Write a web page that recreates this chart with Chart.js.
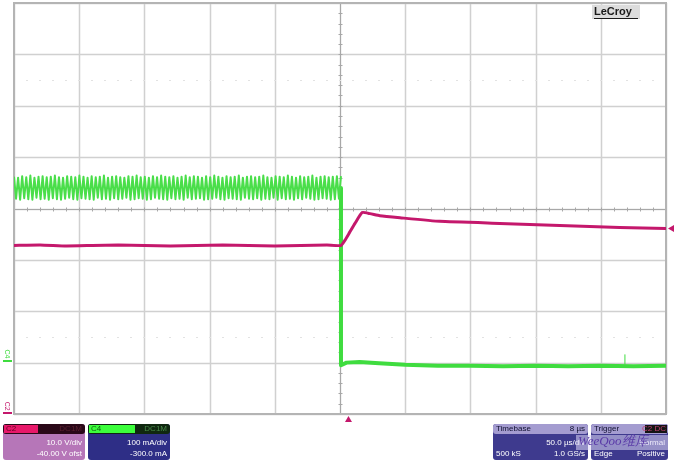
<!DOCTYPE html>
<html>
<head>
<meta charset="utf-8">
<script src="https://cdn.jsdelivr.net/npm/chart.js@4.4.0/dist/chart.umd.min.js"></script>
<style>
  html, body { margin: 0; padding: 0; background: #ffffff; }
  #scope { display: block; }
</style>
</head>
<body>
<canvas id="scope" width="678" height="465"></canvas>
<script>
// screen is 10 x 8 divisions, values below are in divisions (0..10 across, -4..4 up)
const STEP_AT = 5.015;

// C4 ripple before the step: peaks and troughs
const rippleHigh = [0.62, 0.60, 0.63, 0.61, 0.64, 0.60, 0.62, 0.63, 0.61, 0.62,
  0.64, 0.61, 0.60, 0.63, 0.62, 0.61, 0.64, 0.62, 0.60, 0.63,
  0.61, 0.62, 0.64, 0.60, 0.62, 0.63, 0.61, 0.60, 0.63, 0.62,
  0.64, 0.61, 0.62, 0.60, 0.63, 0.61, 0.64, 0.62, 0.61, 0.63,
  0.60, 0.62, 0.64, 0.61, 0.63, 0.62, 0.60, 0.63, 0.61, 0.64,
  0.62, 0.60, 0.63, 0.61, 0.62, 0.64, 0.60, 0.62, 0.63, 0.61,
  0.62, 0.64, 0.61, 0.60, 0.63, 0.62, 0.61, 0.64, 0.62, 0.60,
  0.63, 0.61, 0.62, 0.64, 0.60, 0.62, 0.63, 0.61, 0.62, 0.63];
const rippleLow = [0.19, 0.17, 0.20, 0.18, 0.17, 0.21, 0.18, 0.19, 0.17, 0.20,
  0.18, 0.17, 0.19, 0.21, 0.18, 0.17, 0.20, 0.19, 0.18, 0.17,
  0.21, 0.18, 0.19, 0.17, 0.20, 0.18, 0.19, 0.21, 0.17, 0.18,
  0.20, 0.19, 0.17, 0.18, 0.21, 0.19, 0.18, 0.17, 0.20, 0.18,
  0.19, 0.17, 0.21, 0.18, 0.19, 0.20, 0.17, 0.18, 0.19, 0.21,
  0.18, 0.17, 0.20, 0.19, 0.18, 0.17, 0.21, 0.19, 0.18, 0.20,
  0.17, 0.19, 0.18, 0.21, 0.17, 0.20, 0.18, 0.19, 0.17, 0.20,
  0.18, 0.21, 0.19, 0.17, 0.18, 0.20, 0.19, 0.17, 0.18, 0.19];

// C4 after the step
const c4AfterX = [5.015, 5.015, 5.10, 5.30, 5.60, 6.00, 6.50, 7.00, 7.50, 8.00, 8.50, 9.00, 9.50, 10.00];
const c4AfterY = [0.40, -3.05, -3.00, -2.99, -3.01, -3.04, -3.06, -3.06, -3.07, -3.06, -3.07, -3.06, -3.07, -3.06];
// thin glitch on C4
const c4SpikeX = [9.37, 9.37];
const c4SpikeY = [-3.04, -2.84];

// C2 trace
const c2X = [0.00, 0.40, 0.80, 1.20, 1.60, 2.00, 2.40, 2.80, 3.20, 3.60, 4.00, 4.40, 4.80, 5.015,
  5.08, 5.15, 5.23, 5.34, 5.46, 5.61, 5.92, 6.53, 7.45, 8.37, 9.29, 10.00];
const c2Y = [-0.72, -0.71, -0.73, -0.72, -0.71, -0.72, -0.73, -0.72, -0.71, -0.72, -0.73, -0.72, -0.71, -0.72,
  -0.61, -0.46, -0.29, -0.08, -0.10, -0.14, -0.18, -0.25, -0.29, -0.33, -0.37, -0.39];

const xDivs = [0, 1, 2, 3, 4, 5, 6, 7, 8, 9, 10];
const yDivs = [-4, -3, -2, -1, 0, 1, 2, 3, 4];

const GREEN = '#3fdc3f';
const MAGENTA = '#c4186c';

function zip(xs, ys) {
  return xs.map((x, i) => ({x: x, y: ys[i]}));
}

function ripplePoints() {
  const pts = [];
  const w = STEP_AT / rippleHigh.length;
  for (let i = 0; i < rippleHigh.length; i++) {
    pts.push({x: i * w, y: rippleHigh[i]});
    pts.push({x: (i + 0.5) * w, y: rippleLow[i]});
  }
  pts.push({x: STEP_AT, y: rippleHigh[rippleHigh.length - 1]});
  return pts;
}

const gridPlugin = {
  id: 'scopeGrid',
  beforeDatasetsDraw(chart) {
    const {ctx, chartArea: a, scales: {x, y}} = chart;
    ctx.save();
    ctx.strokeStyle = '#d0d0d0';
    ctx.lineWidth = 1.5;
    xDivs.forEach(v => {
      const px = Math.round(x.getPixelForValue(v)) + 0.5;
      ctx.beginPath(); ctx.moveTo(px, a.top); ctx.lineTo(px, a.bottom); ctx.stroke();
    });
    yDivs.forEach(v => {
      const py = Math.round(y.getPixelForValue(v)) + 0.5;
      ctx.beginPath(); ctx.moveTo(a.left, py); ctx.lineTo(a.right, py); ctx.stroke();
    });
    // centre cross, darker, with minor ticks
    const cx = Math.round(x.getPixelForValue(5)) + 0.5;
    const cy = Math.round(y.getPixelForValue(0)) + 0.5;
    ctx.strokeStyle = '#a8a8a8';
    ctx.lineWidth = 1;
    ctx.beginPath(); ctx.moveTo(a.left, cy); ctx.lineTo(a.right, cy); ctx.stroke();
    ctx.beginPath(); ctx.moveTo(cx, a.top); ctx.lineTo(cx, a.bottom); ctx.stroke();
    for (let v = 0; v <= 10.001; v += 0.2) {
      const px = Math.round(x.getPixelForValue(v)) + 0.5;
      ctx.beginPath(); ctx.moveTo(px, cy - 2); ctx.lineTo(px, cy + 2); ctx.stroke();
    }
    for (let v = -4; v <= 4.001; v += 0.2) {
      const py = Math.round(y.getPixelForValue(v)) + 0.5;
      ctx.beginPath(); ctx.moveTo(cx - 2, py); ctx.lineTo(cx + 2, py); ctx.stroke();
    }
    // faint dotted lines
    ctx.fillStyle = '#e2e2e2';
    [2.5, -2.5].forEach(v => {
      const py = Math.round(y.getPixelForValue(v));
      for (let d = 0; d <= 10.001; d += 0.2) {
        ctx.fillRect(Math.round(x.getPixelForValue(d)) - 1, py, 2, 1);
      }
    });
    // frame
    ctx.strokeStyle = '#b4b4b4';
    ctx.lineWidth = 2;
    ctx.strokeRect(a.left, a.top, a.right - a.left, a.bottom - a.top);
    ctx.restore();
  },
  afterDraw(chart) {
    const {ctx, chartArea: a, scales: {x, y}} = chart;
    ctx.save();
    // LeCroy logo
    ctx.fillStyle = '#dcdcdc';
    ctx.fillRect(592, 5, 48, 14);
    ctx.font = 'bold 11px "Liberation Sans", Arial, sans-serif';
    ctx.fillStyle = '#1a1a1a';
    ctx.textBaseline = 'middle';
    ctx.fillText('LeCroy', 594, 12);
    ctx.fillRect(594, 18, 44, 1);

    // channel markers on the left
    ctx.font = '7px "Liberation Sans", Arial, sans-serif';
    ctx.textAlign = 'center';
    ctx.save();
    ctx.translate(7, y.getPixelForValue(-2.83));
    ctx.rotate(Math.PI / 2);
    ctx.fillStyle = GREEN;
    ctx.fillText('C4', 0, 0);
    ctx.restore();
    ctx.fillStyle = GREEN;
    ctx.fillRect(3, Math.round(y.getPixelForValue(-2.95)), 9, 2);
    ctx.save();
    ctx.translate(7, y.getPixelForValue(-3.85));
    ctx.rotate(Math.PI / 2);
    ctx.fillStyle = MAGENTA;
    ctx.fillText('C2', 0, 0);
    ctx.restore();
    ctx.fillStyle = MAGENTA;
    ctx.fillRect(3, Math.round(y.getPixelForValue(-3.97)), 9, 2);

    // right offset marker for C2 and trigger marker below
    const ry = y.getPixelForValue(c2Y[c2Y.length - 1]);
    ctx.fillStyle = MAGENTA;
    ctx.beginPath(); ctx.moveTo(668, ry); ctx.lineTo(674, ry - 3.5); ctx.lineTo(674, ry + 3.5); ctx.closePath(); ctx.fill();
    const tx = x.getPixelForValue(5.13);
    ctx.beginPath(); ctx.moveTo(tx, a.bottom + 2); ctx.lineTo(tx - 3.5, a.bottom + 8); ctx.lineTo(tx + 3.5, a.bottom + 8); ctx.closePath(); ctx.fill();

    // info boxes
    function box(x0, w, head, body) {
      ctx.fillStyle = body;
      roundRect(x0, 424, w, 36, 3);
      ctx.fillStyle = head;
      roundRect(x0, 424, w, 10, 3);
    }
    function roundRect(x0, y0, w, h, r) {
      ctx.beginPath();
      ctx.moveTo(x0 + r, y0); ctx.lineTo(x0 + w - r, y0); ctx.quadraticCurveTo(x0 + w, y0, x0 + w, y0 + r);
      ctx.lineTo(x0 + w, y0 + h - r); ctx.quadraticCurveTo(x0 + w, y0 + h, x0 + w - r, y0 + h);
      ctx.lineTo(x0 + r, y0 + h); ctx.quadraticCurveTo(x0, y0 + h, x0, y0 + h - r);
      ctx.lineTo(x0, y0 + r); ctx.quadraticCurveTo(x0, y0, x0 + r, y0);
      ctx.closePath(); ctx.fill();
    }
    ctx.font = '8px "Liberation Sans", Arial, sans-serif';
    ctx.textBaseline = 'middle';

    // C2
    box(3, 82, '#2a0818', '#b676b8');
    ctx.fillStyle = '#e8186a'; ctx.fillRect(4, 425, 34, 8);
    ctx.fillStyle = '#600020'; ctx.textAlign = 'left'; ctx.fillText('C2', 6, 429);
    ctx.fillStyle = '#5a2030'; ctx.textAlign = 'right'; ctx.fillText('DC1M', 82, 429);
    ctx.fillStyle = '#ffffff';
    ctx.fillText('10.0 V/div', 82, 443); ctx.fillText('-40.00 V ofst', 82, 454);

    // C4
    box(88, 82, '#102810', '#2e2e86');
    ctx.fillStyle = '#3cff3c'; ctx.fillRect(89, 425, 46, 8);
    ctx.fillStyle = '#106010'; ctx.textAlign = 'left'; ctx.fillText('C4', 91, 429);
    ctx.fillStyle = '#4a8a4a'; ctx.textAlign = 'right'; ctx.fillText('DC1M', 167, 429);
    ctx.fillStyle = '#ffffff';
    ctx.fillText('100 mA/div', 167, 443); ctx.fillText('-300.0 mA', 167, 454);

    // Timebase
    box(493, 95, '#a49cd0', '#3e3a8e');
    ctx.fillStyle = '#101030'; ctx.textAlign = 'left'; ctx.fillText('Timebase', 496, 429);
    ctx.textAlign = 'right'; ctx.fillText('8 µs', 585, 429);
    ctx.fillStyle = '#ffffff';
    ctx.fillText('50.0 µs/div', 585, 443); ctx.fillText('1.0 GS/s', 585, 454);
    ctx.textAlign = 'left'; ctx.fillText('500 kS', 496, 454);

    // Trigger
    box(591, 77, '#a49cd0', '#3e3a8e');
    ctx.fillStyle = '#101030'; ctx.textAlign = 'left'; ctx.fillText('Trigger', 594, 429);
    ctx.fillStyle = '#151515'; ctx.fillRect(645, 425, 22, 8);
    ctx.fillStyle = '#c04070'; ctx.textAlign = 'right'; ctx.fillText('C2 DC', 666, 429);
    ctx.fillStyle = '#ffffff';
    ctx.fillText('Normal', 665, 443); ctx.fillText('Positive', 665, 454);
    ctx.textAlign = 'left'; ctx.fillText('Edge', 594, 454);

    // watermark with its pale halo
    ctx.fillStyle = 'rgba(220, 215, 245, 0.55)';
    ctx.fillRect(576, 435, 92, 15);
    ctx.font = 'italic 13px "Liberation Serif", serif';
    ctx.fillStyle = '#5a3aa8';
    ctx.textAlign = 'left';
    ctx.fillText('WeeQoo维库', 578, 442);
    ctx.restore();
  }
};

new Chart(document.getElementById('scope'), {
  type: 'line',
  data: {
    datasets: [
      {label: 'C2', data: zip(c2X, c2Y), borderColor: MAGENTA, borderWidth: 3, tension: 0.15},
      {label: 'C4 ripple', data: ripplePoints(), borderColor: '#4ade4a', borderWidth: 2},
      {label: 'C4', data: zip(c4AfterX, c4AfterY), borderColor: GREEN, borderWidth: 4},
      {label: 'C4 glitch', data: zip(c4SpikeX, c4SpikeY), borderColor: GREEN, borderWidth: 1}
    ]
  },
  options: {
    responsive: false,
    animation: false,
    devicePixelRatio: 1,
    layout: {padding: {left: 14, right: 12, top: 3, bottom: 51}},
    elements: {point: {radius: 0}, line: {borderJoinStyle: 'round'}},
    scales: {
      x: {type: 'linear', min: 0, max: 10, display: false},
      y: {type: 'linear', min: -4, max: 4, display: false}
    },
    plugins: {legend: {display: false}, tooltip: {enabled: false}}
  },
  plugins: [gridPlugin]
});
</script>
</body>
</html>
